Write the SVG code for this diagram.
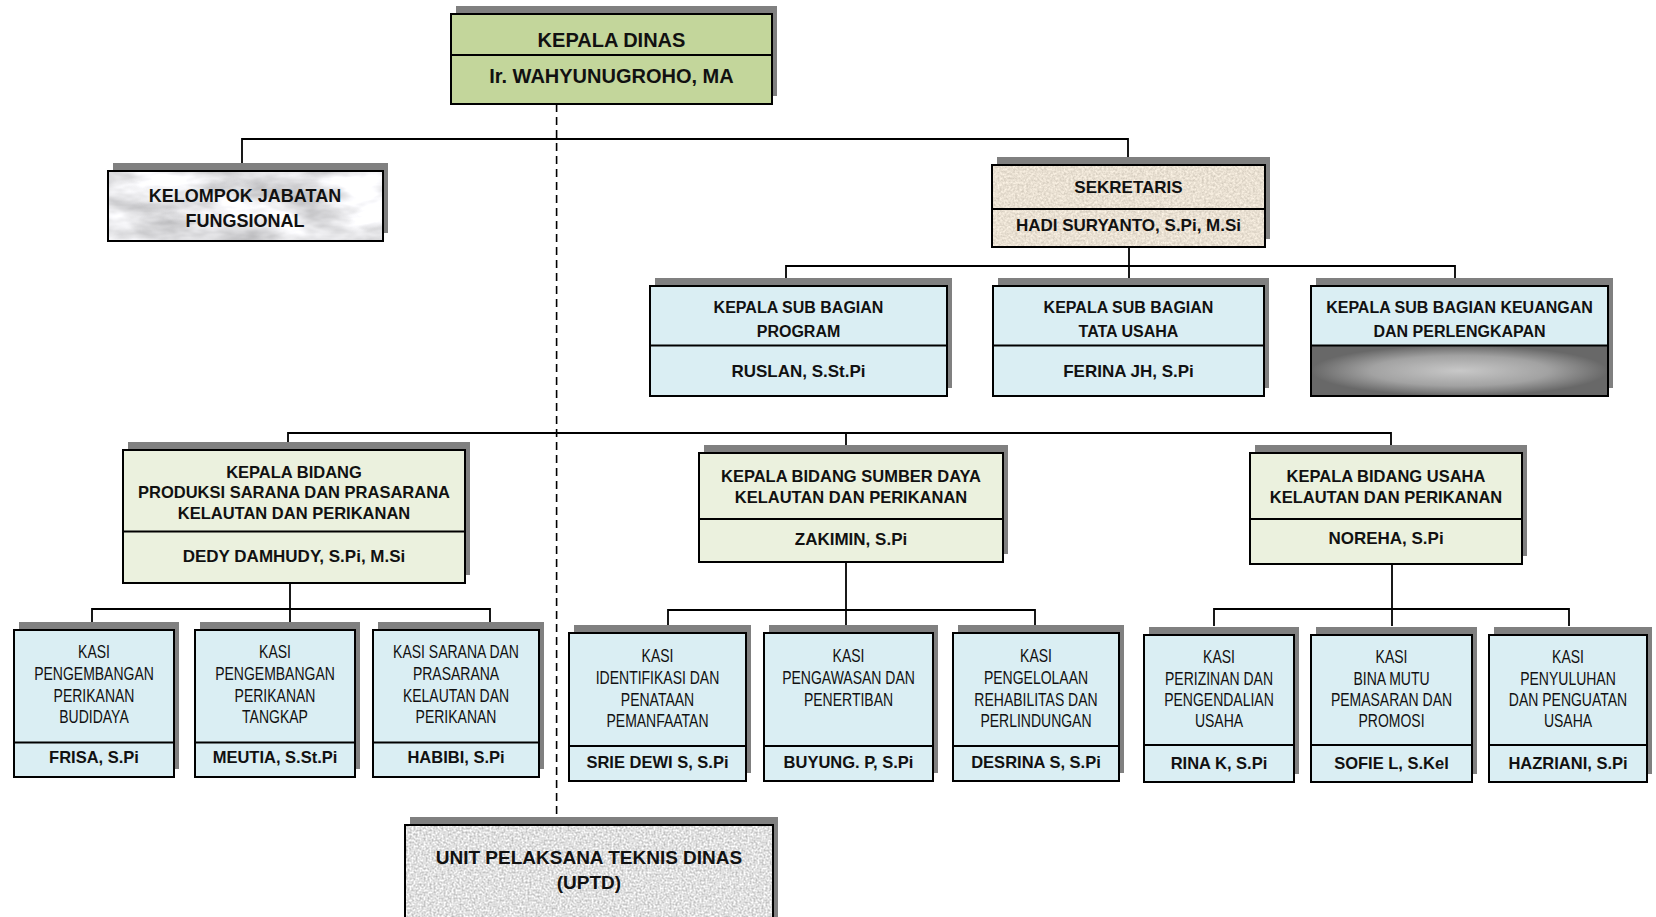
<svg xmlns="http://www.w3.org/2000/svg" width="1656" height="917" viewBox="0 0 1656 917">
<defs>
<style>
.sh{fill:#808080}
.bx{fill:none;stroke:#000;stroke-width:2}
.dv{stroke:#000;stroke-width:2}
.green{fill:#c3d69b}
.lgreen{fill:#ebf1de}
.blue{fill:#daeef3}
.t{font-family:"Liberation Sans",Arial,sans-serif;font-weight:bold;fill:#111;text-anchor:middle}
.k{font-family:"Liberation Sans",Arial,sans-serif;font-weight:normal;font-size:17.5px;fill:#111;text-anchor:middle}
.cn{fill:none;stroke:#000;stroke-width:1.8}
.dash{fill:none;stroke:#000;stroke-width:1.6;stroke-dasharray:8 5}
</style>
<filter id="fMarble" x="0" y="0" width="1" height="1" color-interpolation-filters="sRGB">
<feTurbulence type="fractalNoise" baseFrequency="0.015 0.04" numOctaves="4" seed="7"/>
<feColorMatrix type="matrix" values="0.6 0 0 0 0.6  0.6 0 0 0 0.6  0.6 0 0 0 0.61  0 0 0 0 1"/>
<feComposite in2="SourceGraphic" operator="in"/>
</filter>
<filter id="fGranite" x="0" y="0" width="1" height="1" color-interpolation-filters="sRGB">
<feTurbulence type="fractalNoise" baseFrequency="0.5" numOctaves="2" seed="3"/>
<feColorMatrix type="matrix" values="0.5 0 0 0 0.63  0.5 0 0 0 0.63  0.5 0 0 0 0.63  0 0 0 0 1"/>
<feComposite in2="SourceGraphic" operator="in"/>
</filter>
<filter id="fPaper" x="0" y="0" width="1" height="1" color-interpolation-filters="sRGB">
<feTurbulence type="fractalNoise" baseFrequency="0.45" numOctaves="2" seed="5"/>
<feColorMatrix type="matrix" values="0.25 0 0 0 0.79  0.25 0 0 0 0.755  0.25 0 0 0 0.7  0 0 0 0 1"/>
<feComposite in2="SourceGraphic" operator="in"/>
</filter>
<radialGradient id="gGrey" cx="0.5" cy="0.5" r="0.5">
<stop offset="0" stop-color="#c8c8c8"/>
<stop offset="0.6" stop-color="#a2a2a2"/>
<stop offset="1" stop-color="#686868"/>
</radialGradient>
</defs>
<rect width="1656" height="917" fill="#fff"/>

<g id="connectors">
<path class="cn" d="M242 163 V139 H1128 V157"/>
<path class="cn" d="M1129 247 V278"/>
<path class="cn" d="M786 278 V266 H1455 V278"/>
<path class="cn" d="M288 442 V433 H1391 V445"/>
<path class="cn" d="M846 433 V445"/>
<path class="cn" d="M290 583 V622"/>
<path class="cn" d="M92 622 V609 H490 V622"/>
<path class="cn" d="M846 562 V626"/>
<path class="cn" d="M668 626 V610 H1035 V626"/>
<path class="cn" d="M1392 564 V626"/>
<path class="cn" d="M1214 626 V609 H1569 V626"/>
<path class="dash" d="M556.6 104 V817"/>
</g>

<g id="kepala-dinas">
<rect class="sh" x="456" y="6" width="321" height="90"/>
<rect class="green" x="451" y="14" width="321" height="90"/>
<line class="dv" x1="451" y1="55" x2="772" y2="55"/>
<rect class="bx" x="451" y="14" width="321" height="90"/>
<text class="t" x="611.5" y="47" font-size="20">KEPALA DINAS</text>
<text class="t" x="611.5" y="82.5" font-size="20">Ir. WAHYUNUGROHO, MA</text>
</g>

<g id="kelompok-jabatan-fungsional">
<rect class="sh" x="113" y="163" width="275" height="70"/>
<rect x="108" y="171" width="275" height="70" fill="#fff" filter="url(#fMarble)"/>
<rect class="bx" x="108" y="171" width="275" height="70"/>
<text class="t" x="245" y="201.5" font-size="18">KELOMPOK JABATAN</text>
<text class="t" x="245" y="226.5" font-size="18">FUNGSIONAL</text>
</g>

<g id="sekretaris">
<rect class="sh" x="997" y="157" width="273" height="82"/>
<rect x="992" y="165" width="273" height="82" fill="#fff" filter="url(#fPaper)"/>
<line class="dv" x1="992" y1="209" x2="1265" y2="209"/>
<rect class="bx" x="992" y="165" width="273" height="82"/>
<text class="t" x="1128.5" y="193.3" font-size="17">SEKRETARIS</text>
<text class="t" x="1128.5" y="230.5" font-size="17">HADI SURYANTO, S.Pi, M.Si</text>
</g>

<g id="subbag-program">
<rect class="sh" x="655" y="278" width="297" height="110"/>
<rect class="blue" x="650" y="286" width="297" height="110"/>
<line class="dv" x1="650" y1="345.5" x2="947" y2="345.5"/>
<rect class="bx" x="650" y="286" width="297" height="110"/>
<text class="t" x="798.5" y="313.3" font-size="16">KEPALA SUB BAGIAN</text>
<text class="t" x="798.5" y="336.7" font-size="16">PROGRAM</text>
<text class="t" x="798.5" y="376.7" font-size="17">RUSLAN, S.St.Pi</text>
</g>

<g id="subbag-tata-usaha">
<rect class="sh" x="998" y="278" width="271" height="110"/>
<rect class="blue" x="993" y="286" width="271" height="110"/>
<line class="dv" x1="993" y1="345.5" x2="1264" y2="345.5"/>
<rect class="bx" x="993" y="286" width="271" height="110"/>
<text class="t" x="1128.5" y="313.3" font-size="16">KEPALA SUB BAGIAN</text>
<text class="t" x="1128.5" y="336.7" font-size="16">TATA USAHA</text>
<text class="t" x="1128.5" y="376.7" font-size="17">FERINA JH, S.Pi</text>
</g>

<g id="subbag-keuangan">
<rect class="sh" x="1316" y="278" width="297" height="110"/>
<rect class="blue" x="1311" y="286" width="297" height="59.5"/>
<rect x="1311" y="345.5" width="297" height="50.5" fill="url(#gGrey)"/>
<line class="dv" x1="1311" y1="345.5" x2="1608" y2="345.5"/>
<rect class="bx" x="1311" y="286" width="297" height="110"/>
<text class="t" x="1459.5" y="313.3" font-size="16">KEPALA SUB BAGIAN KEUANGAN</text>
<text class="t" x="1459.5" y="336.7" font-size="16">DAN PERLENGKAPAN</text>
</g>

<g id="bidang-produksi">
<rect class="sh" x="128" y="442" width="342" height="133"/>
<rect class="lgreen" x="123" y="450" width="342" height="133"/>
<line class="dv" x1="123" y1="531.5" x2="465" y2="531.5"/>
<rect class="bx" x="123" y="450" width="342" height="133"/>
<text class="t" x="294" y="478.3" font-size="16.5">KEPALA BIDANG</text>
<text class="t" x="294" y="498.3" font-size="16.5">PRODUKSI SARANA DAN PRASARANA</text>
<text class="t" x="294" y="519.3" font-size="16.5">KELAUTAN DAN PERIKANAN</text>
<text class="t" x="294" y="561.7" font-size="17">DEDY DAMHUDY, S.Pi, M.Si</text>
</g>

<g id="bidang-sumber-daya">
<rect class="sh" x="704" y="445" width="304" height="109"/>
<rect class="lgreen" x="699" y="453" width="304" height="109"/>
<line class="dv" x1="699" y1="519" x2="1003" y2="519"/>
<rect class="bx" x="699" y="453" width="304" height="109"/>
<text class="t" x="851" y="481.7" font-size="16.5">KEPALA BIDANG SUMBER DAYA</text>
<text class="t" x="851" y="503.3" font-size="16.5">KELAUTAN DAN PERIKANAN</text>
<text class="t" x="851" y="545" font-size="17">ZAKIMIN, S.Pi</text>
</g>

<g id="bidang-usaha">
<rect class="sh" x="1255" y="445" width="272" height="111"/>
<rect class="lgreen" x="1250" y="453" width="272" height="111"/>
<line class="dv" x1="1250" y1="519" x2="1522" y2="519"/>
<rect class="bx" x="1250" y="453" width="272" height="111"/>
<text class="t" x="1386" y="481.7" font-size="16.5">KEPALA BIDANG USAHA</text>
<text class="t" x="1386" y="503.3" font-size="16.5">KELAUTAN DAN PERIKANAN</text>
<text class="t" x="1386" y="544" font-size="17">NOREHA, S.Pi</text>
</g>

<g id="kasi-budidaya">
<rect class="sh" x="19" y="622" width="160" height="147"/>
<rect class="blue" x="14" y="630" width="160" height="147"/>
<line class="dv" x1="14" y1="742.5" x2="174" y2="742.5"/>
<rect class="bx" x="14" y="630" width="160" height="147"/>
<text class="k" transform="translate(94 0) scale(0.8 1)"><tspan x="0" y="658.3">KASI</tspan><tspan x="0" y="680">PENGEMBANGAN</tspan><tspan x="0" y="701.7">PERIKANAN</tspan><tspan x="0" y="723.3">BUDIDAYA</tspan></text>
<text class="t" x="94" y="763.3" font-size="16.5">FRISA, S.Pi</text>
</g>

<g id="kasi-tangkap">
<rect class="sh" x="200" y="622" width="160" height="147"/>
<rect class="blue" x="195" y="630" width="160" height="147"/>
<line class="dv" x1="195" y1="742.5" x2="355" y2="742.5"/>
<rect class="bx" x="195" y="630" width="160" height="147"/>
<text class="k" transform="translate(275 0) scale(0.8 1)"><tspan x="0" y="658.3">KASI</tspan><tspan x="0" y="680">PENGEMBANGAN</tspan><tspan x="0" y="701.7">PERIKANAN</tspan><tspan x="0" y="723.3">TANGKAP</tspan></text>
<text class="t" x="275" y="763.3" font-size="16.5">MEUTIA, S.St.Pi</text>
</g>

<g id="kasi-sarana-prasarana">
<rect class="sh" x="378" y="622" width="166" height="147"/>
<rect class="blue" x="373" y="630" width="166" height="147"/>
<line class="dv" x1="373" y1="742.5" x2="539" y2="742.5"/>
<rect class="bx" x="373" y="630" width="166" height="147"/>
<text class="k" transform="translate(456 0) scale(0.8 1)"><tspan x="0" y="658.3">KASI SARANA DAN</tspan><tspan x="0" y="680">PRASARANA</tspan><tspan x="0" y="701.7">KELAUTAN DAN</tspan><tspan x="0" y="723.3">PERIKANAN</tspan></text>
<text class="t" x="456" y="763.3" font-size="16.5">HABIBI, S.Pi</text>
</g>

<g id="kasi-identifikasi">
<rect class="sh" x="574" y="625" width="177" height="148"/>
<rect class="blue" x="569" y="633" width="177" height="148"/>
<line class="dv" x1="569" y1="746" x2="746" y2="746"/>
<rect class="bx" x="569" y="633" width="177" height="148"/>
<text class="k" transform="translate(657.5 0) scale(0.8 1)"><tspan x="0" y="661.7">KASI</tspan><tspan x="0" y="684">IDENTIFIKASI DAN</tspan><tspan x="0" y="706">PENATAAN</tspan><tspan x="0" y="726.7">PEMANFAATAN</tspan></text>
<text class="t" x="657.5" y="768.3" font-size="16.5">SRIE DEWI S, S.Pi</text>
</g>

<g id="kasi-pengawasan">
<rect class="sh" x="769" y="625" width="169" height="148"/>
<rect class="blue" x="764" y="633" width="169" height="148"/>
<line class="dv" x1="764" y1="746" x2="933" y2="746"/>
<rect class="bx" x="764" y="633" width="169" height="148"/>
<text class="k" transform="translate(848.5 0) scale(0.8 1)"><tspan x="0" y="661.7">KASI</tspan><tspan x="0" y="684">PENGAWASAN DAN</tspan><tspan x="0" y="706">PENERTIBAN</tspan></text>
<text class="t" x="848.5" y="768.3" font-size="16.5">BUYUNG. P, S.Pi</text>
</g>

<g id="kasi-pengelolaan">
<rect class="sh" x="958" y="625" width="166" height="148"/>
<rect class="blue" x="953" y="633" width="166" height="148"/>
<line class="dv" x1="953" y1="746" x2="1119" y2="746"/>
<rect class="bx" x="953" y="633" width="166" height="148"/>
<text class="k" transform="translate(1036 0) scale(0.8 1)"><tspan x="0" y="661.7">KASI</tspan><tspan x="0" y="684">PENGELOLAAN</tspan><tspan x="0" y="706">REHABILITAS DAN</tspan><tspan x="0" y="726.7">PERLINDUNGAN</tspan></text>
<text class="t" x="1036" y="768.3" font-size="16.5">DESRINA S, S.Pi</text>
</g>

<g id="kasi-perizinan">
<rect class="sh" x="1149" y="627" width="150" height="147"/>
<rect class="blue" x="1144" y="635" width="150" height="147"/>
<line class="dv" x1="1144" y1="745" x2="1294" y2="745"/>
<rect class="bx" x="1144" y="635" width="150" height="147"/>
<text class="k" transform="translate(1219 0) scale(0.8 1)"><tspan x="0" y="663.3">KASI</tspan><tspan x="0" y="685">PERIZINAN DAN</tspan><tspan x="0" y="706">PENGENDALIAN</tspan><tspan x="0" y="726.7">USAHA</tspan></text>
<text class="t" x="1219" y="769.3" font-size="16.5">RINA K, S.Pi</text>
</g>

<g id="kasi-bina-mutu">
<rect class="sh" x="1316" y="627" width="161" height="147"/>
<rect class="blue" x="1311" y="635" width="161" height="147"/>
<line class="dv" x1="1311" y1="745" x2="1472" y2="745"/>
<rect class="bx" x="1311" y="635" width="161" height="147"/>
<text class="k" transform="translate(1391.5 0) scale(0.8 1)"><tspan x="0" y="663.3">KASI</tspan><tspan x="0" y="685">BINA MUTU</tspan><tspan x="0" y="706">PEMASARAN DAN</tspan><tspan x="0" y="726.7">PROMOSI</tspan></text>
<text class="t" x="1391.5" y="769.3" font-size="16.5">SOFIE L, S.Kel</text>
</g>

<g id="kasi-penyuluhan">
<rect class="sh" x="1494" y="627" width="158" height="147"/>
<rect class="blue" x="1489" y="635" width="158" height="147"/>
<line class="dv" x1="1489" y1="745" x2="1647" y2="745"/>
<rect class="bx" x="1489" y="635" width="158" height="147"/>
<text class="k" transform="translate(1568 0) scale(0.8 1)"><tspan x="0" y="663.3">KASI</tspan><tspan x="0" y="685">PENYULUHAN</tspan><tspan x="0" y="706">DAN PENGUATAN</tspan><tspan x="0" y="726.7">USAHA</tspan></text>
<text class="t" x="1568" y="769.3" font-size="16.5">HAZRIANI, S.Pi</text>
</g>

<g id="uptd">
<rect class="sh" x="410" y="817" width="368" height="110"/>
<rect x="405" y="825" width="368" height="110" fill="#fff" filter="url(#fGranite)"/>
<rect class="bx" x="405" y="825" width="368" height="110"/>
<text class="t" x="589" y="864" font-size="19">UNIT PELAKSANA TEKNIS DINAS</text>
<text class="t" x="589" y="889" font-size="19">(UPTD)</text>
</g>
</svg>
